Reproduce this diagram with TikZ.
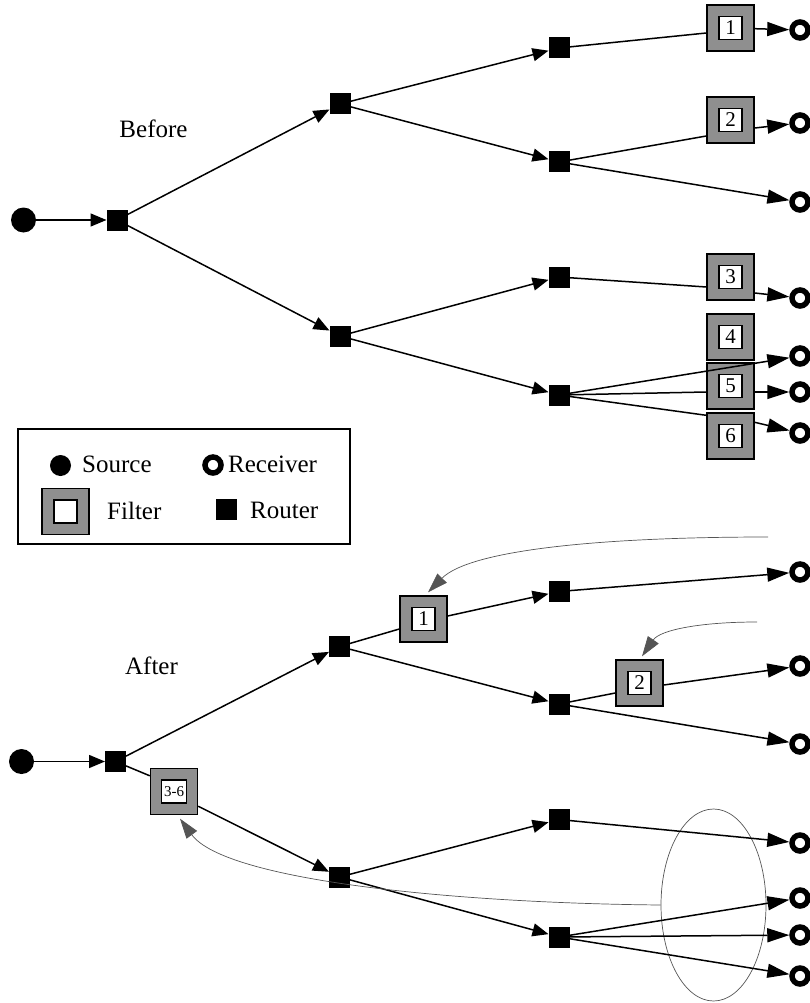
\documentclass[tikz,border=0pt]{standalone}
\usepackage{fontspec}
\setmainfont{Liberation Serif}
\usetikzlibrary{arrows.meta,shapes.geometric}
\definecolor{fgray}{RGB}{143,143,143}
\definecolor{fbgray}{RGB}{85,85,85}
\newcommand\filternode[4][23pt]{%
  \node[fbox] (#2) at (#3) {};
  \node[flab, minimum width=#1] (#2t) at (#2) {#4};}
\begin{document}
\begin{tikzpicture}[x=1pt,y=-1pt,
 router/.style={fill=black, minimum size=21pt, inner sep=0pt, outer sep=0pt},
 source/.style={circle, fill=black, minimum size=25pt, inner sep=0pt, outer sep=0pt},
 receiver/.style={circle, draw=black, line width=5.5pt, fill=white, minimum size=16pt, inner sep=0pt},
 fbox/.style={draw=black, line width=1.4pt, fill=fgray, minimum width=47pt, minimum height=46pt, inner sep=0pt},
 flab/.style={draw=black, line width=1.4pt, fill=white, minimum height=23pt, inner sep=0pt, font=\fontsize{21}{21}\selectfont},
 edge/.style={line width=1.5pt, -{Triangle[length=16pt,width=13pt]}},
 redge/.style={line width=1.5pt, -{Triangle[length=22pt,width=14pt]}},
 plain/.style={line width=1.5pt},
 fb/.style={draw=fbgray, line width=0.7pt, -{Triangle[length=20pt,width=13pt,fill=fbgray]}},
 lbl/.style={font=\fontsize{25}{25}\selectfont, inner sep=0pt, anchor=base},
 ltxt/.style={font=\fontsize{25}{25}\selectfont, inner sep=0pt, anchor=base west},
]
\useasboundingbox (0,0) rectangle (809,1003);

% ---------------- Before ----------------
\node[lbl] (before) at (153.5,138) {Before};
\node[source] (S) at (23.5,220) {};
\node[router] (R0) at (117,220) {};
\node[router] (R1) at (340,104) {};
\node[router] (R2) at (340,336) {};
\node[router] (R3) at (559,48) {};
\node[router] (R4) at (559,162) {};
\node[router] (R5) at (559,277) {};
\node[router] (R6) at (559,395) {};
\filternode{F1}{730.5,28}{1}
\filternode{F2}{730.5,120}{2}
\filternode{F3}{730.5,277}{3}
\filternode{F4}{730.5,337}{4}
\filternode{F5}{730.5,386}{5}
\filternode{F6}{730.5,436}{6}
\node[receiver] (Ra) at (800,30) {};
\node[receiver] (Rb) at (800,123) {};
\node[receiver] (Rc) at (800,202) {};
\node[receiver] (Rd) at (800,298) {};
\node[receiver] (Re) at (800,356) {};
\node[receiver] (Rf) at (800,392) {};
\node[receiver] (Rg) at (800,433) {};

\draw[edge] (S) -- (R0);
\draw[edge] (R0) -- (R1);
\draw[edge] (R0) -- (R2);
\draw[edge] (R1) -- (R3);
\draw[edge] (R1) -- (R4);
\draw[edge] (R2) -- (R5);
\draw[edge] (R2) -- (R6);
\draw[plain] (R3) -- ([yshift=-5pt]F1.west);
\draw[redge] (F1) -- (Ra);
\draw[plain] (R4) -- ([yshift=-16pt]F2.west);
\draw[redge] ([yshift=-8pt]F2.east) -- (Rb);
\draw[redge] (R4) -- (Rc);
\draw[plain] (R5) -- ([yshift=-10pt]F3.west);
\draw[redge] ([yshift=-16pt]F3.east) -- (Rd);
\draw[redge] (R6) -- (Re);
\draw[plain] (R6) -- ([yshift=-6pt]F5.west);
\draw[redge] ([yshift=-6pt]F5.east) -- (Rf);
\draw[plain] (R6) -- ([yshift=-3pt]F6.north west);
\draw[redge] ([yshift=-10pt]F6.north east) -- (Rg);

% ---------------- Legend ----------------
\node[draw=black, line width=1.3pt, minimum width=332pt, minimum height=115pt, inner sep=0pt] (legend) at (184,486.5) {};
\node[source, minimum size=21pt] (LS) at (60.5,465.5) {};
\node[ltxt] (LSt) at (82,472) {Source};
\node[receiver] (LR) at (213,465) {};
\node[ltxt] (LRt) at (228,472) {Receiver};
\filternode{LF}{65.5,511.5}{}
\node[ltxt] (LFt) at (107,519) {Filter};
\node[router] (LRo) at (226.5,509.5) {};
\node[ltxt] (LRot) at (250,518) {Router};

% ---------------- After ----------------
\node[lbl] (after) at (151.5,674) {After};
\node[source] (S2) at (21.5,761.5) {};
\node[router] (A0) at (115.5,761.5) {};
\node[router] (A1) at (339.5,646.5) {};
\node[router] (A2) at (339.5,877) {};
\node[router] (A3) at (559,591.5) {};
\node[router] (A4) at (559,704) {};
\node[router] (A5) at (559,819.5) {};
\node[router] (A6) at (559,937) {};
\filternode{AF1}{423.5,619}{1}
\filternode{AF2}{639.5,683}{2}
\filternode[25pt]{AF36}{174,791.5}{\fontsize{15}{15}\selectfont 3-6}
\node[receiver] (Aa) at (800,572) {};
\node[receiver] (Ab) at (800,666) {};
\node[receiver] (Ac) at (800,744) {};
\node[receiver] (Ad) at (800,843) {};
\node[receiver] (Ae) at (800,898) {};
\node[receiver] (Af) at (800,935) {};
\node[receiver] (Ag) at (800,976) {};
\node[draw=fbgray, line width=0.7pt, ellipse, minimum width=105pt, minimum height=192pt, inner sep=0pt] (E) at (713.5,905) {};

\draw[edge] (S2) -- (A0);
\draw[edge] (A0) -- (A1);
\draw[plain] (A0) -- ([yshift=-8pt]AF36.north west);
\draw[edge] ([yshift=9pt]AF36.south east) -- (A2);
\draw[plain] (A1) -- ([yshift=-10pt]AF1.west);
\draw[edge] ([yshift=3pt]AF1.east) -- (A3);
\draw[redge] (A3) -- (Aa);
\draw[edge] (A1) -- (A4);
\draw[plain] (A4) -- ([yshift=-10pt]AF2.west);
\draw[redge] ([yshift=-2pt]AF2.east) -- (Ab);
\draw[redge] (A4) -- (Ac);
\draw[edge] (A2) -- (A5);
\draw[edge] (A2) -- (A6);
\draw[redge] (A5) -- (Ad);
\draw[redge] (A6) -- (Ae);
\draw[redge] (A6) -- (Af);
\draw[redge] (A6) -- (Ag);

% feedback arrows
\coordinate (g1) at (768,537);
\coordinate (g2) at (757,622);
\draw[fb] (g1) .. controls (600,537) and (470,550) .. ([xshift=4.5pt,yshift=3pt]AF1.north);
\draw[fb] (g2) .. controls (700,622) and (660,630) .. ([xshift=2.5pt,yshift=3pt]AF2.north);
\draw[fb] (E.west) .. controls (450,903) and (225,880) .. ([xshift=6pt,yshift=-3.5pt]AF36.south);
\end{tikzpicture}
\end{document}
